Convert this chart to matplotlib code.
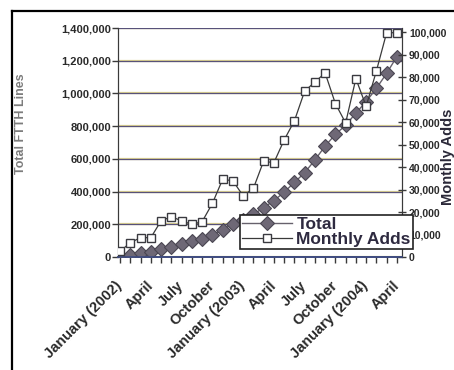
import numpy as np
import matplotlib.pyplot as plt
from matplotlib.lines import Line2D

plt.rcParams['font.family'] = ['Liberation Sans', 'DejaVu Sans']
plt.rcParams['font.weight'] = 'bold'

# Jan 2002 .. Apr 2004, one value per month
months = list(range(28))
tick_labels = ['January (2002)', 'April', 'July', 'October',
               'January (2003)', 'April', 'July', 'October',
               'January (2004)', 'April']
total = [8000, 14000, 23000, 31000, 47000, 64000, 80000, 95000, 110000,
         134000, 168000, 202000, 229000, 260000, 302000, 344000, 396000,
         456000, 515000, 593000, 678000, 750000, 805000, 880000, 950000,
         1031000, 1123000, 1225000]
monthly_adds = [2500, 6400, 8600, 8600, 16100, 17900, 16100, 14500, 15700,
                23800, 34500, 33900, 27200, 30500, 42600, 41900, 52000,
                60500, 73700, 77800, 81800, 68200, 59600, 79300, 67000,
                82700, 99700, 99700]

fig = plt.figure(figsize=(4.54, 3.70), dpi=100)
ax1 = fig.add_axes([0.260, 0.3054, 0.6255, 0.6189])
ax2 = ax1.twinx()

# scanned-looking gridlines: faint yellow fringe under a dark blue-purple line
for v in range(0, 1400001, 200000):
    ax1.axhline(v, color='#e0d590', lw=1.6, zorder=0.5)
    ax1.axhline(v, color='#58527a', lw=0.9, zorder=0.6)

ax1.plot(months, total, color='#66616c', lw=1.0, marker='D', markersize=7,
         markerfacecolor='#6e6876', markeredgecolor='#4a4652',
         markeredgewidth=0.8, label='Total', zorder=3)
ax2.plot(months, monthly_adds, color='#3a3a3a', lw=0.9, marker='s',
         markersize=6, markerfacecolor='white', markeredgecolor='#3a3a40',
         markeredgewidth=1.0, label='Monthly Adds', zorder=4)

ax1.set_xlim(-0.2, 27.5)
ax1.set_ylim(0, 1400000)
ax2.set_ylim(0, 101800)

ax1.set_yticks(range(0, 1400001, 200000))
ax1.set_yticklabels(['{:,}'.format(v) for v in range(0, 1400001, 200000)])
ax2.set_yticks(range(0, 100001, 10000))
ax2.set_yticklabels(['{:,}'.format(v) for v in range(0, 100001, 10000)])

ax1.set_xticks(months, minor=True)
ax1.set_xticks(months[::3])
ax1.set_xticklabels(tick_labels, rotation=45, ha='right', va='center',
                    rotation_mode='anchor', fontsize=10.5, fontweight='bold',
                    color='#2a2a2a')

ax1.tick_params(axis='y', direction='out', length=4, width=1, pad=1,
                labelsize=8, labelcolor='#2a2a2a', color='#3a3a3a')
ax2.tick_params(axis='y', direction='inout', length=6, width=1, pad=2,
                labelsize=7.5, labelcolor='#2a2a2a', color='#3a3a3a')
for lab in ax1.get_yticklabels() + ax2.get_yticklabels():
    lab.set_fontweight('bold')
ax1.tick_params(axis='x', which='both', direction='out', length=4, width=1,
                color='#3a3a3a', pad=15)

for ax in (ax1, ax2):
    ax.spines['top'].set_visible(False)
    ax.spines['left'].set_color('#3a3a3a')
    ax.spines['right'].set_color('#3a3a3a')
    ax.spines['bottom'].set_color('#3d4a80')
    ax.spines['bottom'].set_linewidth(1.2)
    ax.patch.set_visible(False)

fig.text(0.046, 0.665, 'Total FTTH Lines', rotation=90, ha='center',
         va='center', fontsize=9, fontweight='bold', color='#7c7c7c')
fig.text(0.987, 0.575, 'Monthly Adds', rotation=90, ha='center',
         va='center', fontsize=10.5, fontweight='bold', color='#2a2838')

h1, l1 = ax1.get_legend_handles_labels()
h2, l2 = ax2.get_legend_handles_labels()
leg = ax2.legend(h1 + h2, l1 + l2, loc='upper left',
                 bbox_to_anchor=(0.5286, 0.419), bbox_transform=fig.transFigure,
                 fontsize=12.5, frameon=True, fancybox=False, framealpha=1,
                 edgecolor='#222222', borderpad=0.1, labelspacing=0.0,
                 handlelength=2.9, handletextpad=0.25, borderaxespad=0)
leg.get_frame().set_linewidth(1.2)
for t in leg.get_texts():
    t.set_color('#2e2a40')
    t.set_fontweight('bold')

# page frame from the printed sheet
fig.add_artist(Line2D([12 / 454, 1], [1 - 11 / 370, 1 - 11 / 370],
                      transform=fig.transFigure, color='black', lw=1.6))
fig.add_artist(Line2D([12 / 454, 12 / 454], [0, 1 - 11 / 370],
                      transform=fig.transFigure, color='black', lw=1.6))

fig.savefig('out.png', dpi=100)
